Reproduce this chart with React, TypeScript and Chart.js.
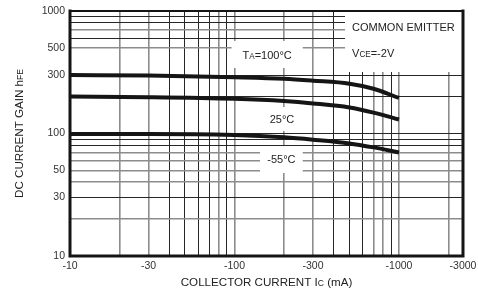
import React, { useEffect, useRef } from 'react';
import { Chart, registerables } from 'chart.js';

Chart.register(...registerables);

// ---------------- data ----------------
// |Ic| in mA (axis labelled negative: PNP device)
const collectorCurrent = [10, 30, 100, 200, 300, 500, 700, 1000];
const gainTa100 = [300, 297, 288, 280, 270, 255, 232, 195];
const gainTa25 = [200, 198, 192, 184, 176, 163, 148, 130];
const gainTaMinus55 = [99, 99, 97, 93, 89, 83, 77, 70];

const X_MIN = 10;
const X_MAX = 2450;
const xGridValues = [10, 20, 30, 40, 50, 60, 70, 80, 90, 100, 200, 300, 400, 500, 600, 700, 800, 900, 1000, 2000];
const xLabeledValues = [10, 30, 100, 300, 1000];
const xTickLabels = ['-10', '-30', '-100', '-300', '-1000'];
const xEdgeTickLabel = '-3000';

const Y_MIN = 10;
const Y_MAX = 1000;
const yGridValues = [10, 20, 30, 40, 50, 60, 70, 80, 90, 100, 200, 300, 400, 500, 600, 700, 800, 900, 1000];
const yLabeledValues = [10, 30, 50, 100, 300, 500, 1000];
const yTickLabels = ['10', '30', '50', '100', '300', '500', '1000'];

// grid tone per line (the datasheet mixes dark and grey lines)
const xGreyLines = [20, 30, 80, 100, 200, 300, 700, 800, 1000, 2000];
const yGreyLines = [20, 40, 50, 60, 70, 500, 700];
const yOmittedLines = [400];

type Seg = { t: string; small?: boolean };
type Note = {
  box: [number, number, number, number]; // x0, x1, y0, y1 in data units
  lines: { segs: Seg[]; y: number; align: 'center' | 'left' }[];
};

const notes: Note[] = [
  {
    box: [96, 260, 343, 569],
    lines: [{ segs: [{ t: 'T' }, { t: 'A', small: true }, { t: '=100°C' }], y: 437, align: 'center' }],
  },
  {
    box: [147, 257, 104.7, 164.6],
    lines: [{ segs: [{ t: '25°C' }], y: 131, align: 'center' }],
  },
  {
    box: [143, 260, 47.6, 79],
    lines: [{ segs: [{ t: '-55°C' }], y: 61.5, align: 'center' }],
  },
  {
    box: [470, X_MAX, 318, Y_MAX],
    lines: [
      { segs: [{ t: 'COMMON EMITTER' }], y: 736, align: 'left' },
      { segs: [{ t: 'V' }, { t: 'CE', small: true }, { t: '=-2V' }], y: 454, align: 'left' },
    ],
  },
];

const xTitle: Seg[] = [{ t: 'COLLECTOR CURRENT I' }, { t: 'C', small: true }, { t: ' (mA)' }];
const yTitle: Seg[] = [{ t: 'DC CURRENT GAIN h' }, { t: 'FE', small: true }];

const FONT = '"Liberation Sans", Arial, Helvetica, sans-serif';
const GREY = '#8c8c8c';
const DARK = '#262626';

function drawSegs(
  ctx: CanvasRenderingContext2D,
  segs: Seg[],
  x: number,
  cy: number,
  align: 'center' | 'left',
  size: number,
  color: string
) {
  const fN = `${size}px ${FONT}`;
  const fS = `${(size * 0.74).toFixed(2)}px ${FONT}`;
  const widths = segs.map((s) => {
    ctx.font = s.small ? fS : fN;
    return ctx.measureText(s.t).width;
  });
  const total = widths.reduce((a, b) => a + b, 0);
  let cx = align === 'center' ? x - total / 2 : x;
  const base = cy + size * 0.36;
  ctx.fillStyle = color;
  ctx.textBaseline = 'alphabetic';
  ctx.textAlign = 'left';
  segs.forEach((s, i) => {
    ctx.font = s.small ? fS : fN;
    ctx.fillText(s.t, cx, base);
    cx += widths[i];
  });
}

const decorPlugin = {
  id: 'decor',
  beforeDatasetsDraw(chart: any) {
    const { ctx, chartArea, scales } = chart;
    const xs = scales.x;
    const ys = scales.y;
    ctx.save();
    notes.forEach((n) => {
      const x0 = xs.getPixelForValue(n.box[0]);
      const x1 = xs.getPixelForValue(n.box[1]);
      const y0 = ys.getPixelForValue(n.box[3]);
      const y1 = ys.getPixelForValue(n.box[2]);
      ctx.fillStyle = '#ffffff';
      ctx.fillRect(x0, y0, x1 - x0, y1 - y0);
      n.lines.forEach((l) => {
        const ty = ys.getPixelForValue(l.y);
        const tx = l.align === 'center' ? (x0 + x1) / 2 : x0 + 7;
        drawSegs(ctx, l.segs, tx, ty, l.align, 11, '#222');
      });
    });
    // axis titles
    drawSegs(ctx, xTitle, (chartArea.left + chartArea.right) / 2, chartArea.bottom + 26, 'center', 11.6, '#222');
    ctx.save();
    ctx.translate(chartArea.left - 51, (chartArea.top + chartArea.bottom) / 2);
    ctx.rotate(-Math.PI / 2);
    drawSegs(ctx, yTitle, 0, 0, 'center', 11.6, '#222');
    ctx.restore();
    ctx.restore();
  },
  afterDraw(chart: any) {
    const { ctx, chartArea } = chart;
    const { left, right, top, bottom } = chartArea;
    ctx.save();
    ctx.strokeStyle = '#151515';
    ctx.lineCap = 'square';
    ctx.lineWidth = 2;
    ctx.beginPath();
    ctx.moveTo(left, top);
    ctx.lineTo(right, top);
    ctx.stroke();
    ctx.lineWidth = 3;
    ctx.beginPath();
    ctx.moveTo(right, top);
    ctx.lineTo(right, bottom);
    ctx.lineTo(left, bottom);
    ctx.lineTo(left, top);
    ctx.stroke();
    ctx.restore();
  },
};

function xGridColor(v: number) {
  if (v <= X_MIN || v >= X_MAX) return 'rgba(0,0,0,0)';
  return xGreyLines.includes(v) ? GREY : DARK;
}
function yGridColor(v: number) {
  if (v <= Y_MIN || v >= Y_MAX || yOmittedLines.includes(v)) return 'rgba(0,0,0,0)';
  return yGreyLines.includes(v) ? GREY : DARK;
}

export default function App() {
  const ref = useRef<HTMLCanvasElement | null>(null);

  useEffect(() => {
    document.body.style.margin = '0';
    const canvas = ref.current;
    if (!canvas) return;
    const mk = (vals: number[]) => collectorCurrent.map((x, i) => ({ x, y: vals[i] }));
    const lineDs = (label: string, vals: number[]) => ({
      label,
      data: mk(vals),
      borderColor: '#151515',
      borderWidth: 4,
      pointRadius: 0,
      fill: false,
      cubicInterpolationMode: 'monotone' as const,
    });

    const chart = new Chart(canvas, {
      type: 'line',
      data: {
        datasets: [
          lineDs('TA=100°C', gainTa100),
          lineDs('25°C', gainTa25),
          lineDs('-55°C', gainTaMinus55),
        ],
      },
      plugins: [decorPlugin],
      options: {
        responsive: false,
        animation: false,
        devicePixelRatio: 1,
        layout: { padding: { left: 0, top: 11, right: 15, bottom: 0 } },
        plugins: { legend: { display: false }, tooltip: { enabled: false } },
        scales: {
          x: {
            type: 'logarithmic',
            min: X_MIN,
            max: X_MAX,
            afterBuildTicks: (s: any) => {
              s.ticks = [...xGridValues, X_MAX].map((v) => ({ value: v }));
            },
            afterFit: (s: any) => {
              s.height = 37;
              s.paddingLeft = 0;
              s.paddingRight = 0;
            },
            ticks: {
              autoSkip: false,
              maxRotation: 0,
              minRotation: 0,
              padding: 4,
              color: '#333',
              font: { family: FONT, size: 10.5 },
              callback: (value: any) => {
                const v = Number(value);
                if (v === X_MAX) return xEdgeTickLabel;
                const i = xLabeledValues.indexOf(v);
                return i >= 0 ? xTickLabels[i] : '';
              },
            },
            grid: {
              drawTicks: false,
              color: (c: any) => xGridColor(c.tick ? c.tick.value : 0),
              lineWidth: (c: any) => (c.tick && xGreyLines.includes(c.tick.value) ? 1.6 : 1),
            },
            border: { display: false },
          },
          y: {
            type: 'logarithmic',
            min: Y_MIN,
            max: Y_MAX,
            afterBuildTicks: (s: any) => {
              s.ticks = yGridValues.map((v) => ({ value: v }));
            },
            afterFit: (s: any) => {
              s.width = 70;
              s.paddingTop = 0;
              s.paddingBottom = 0;
            },
            ticks: {
              autoSkip: false,
              padding: 5,
              color: '#333',
              font: { family: FONT, size: 10.5 },
              callback: (value: any) => {
                const i = yLabeledValues.indexOf(Number(value));
                return i >= 0 ? yTickLabels[i] : '';
              },
            },
            grid: {
              drawTicks: false,
              color: (c: any) => yGridColor(c.tick ? c.tick.value : 0),
              lineWidth: (c: any) => (c.tick && yGreyLines.includes(c.tick.value) ? 1.6 : 1),
            },
            border: { display: false },
          },
        },
      },
    } as any);

    return () => chart.destroy();
  }, []);

  return (
    <div style={{ width: 478, height: 293 }}>
      <canvas ref={ref} width={478} height={293} style={{ display: 'block' }} />
    </div>
  );
}
